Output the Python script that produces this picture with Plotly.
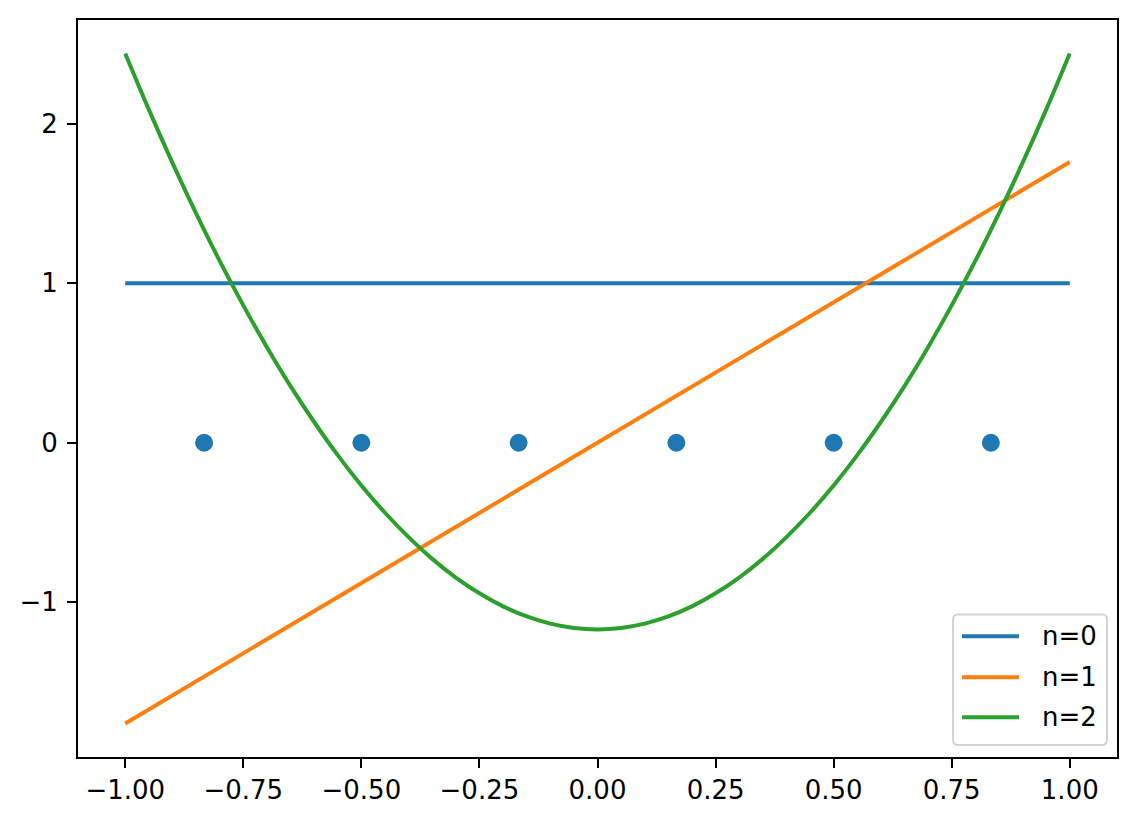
import plotly.graph_objects as go

# sample nodes
node_x = [-0.833, -0.5, -0.167, 0.167, 0.5, 0.833]
node_y = [0, 0, 0, 0, 0, 0]

# straight curves (n=0, n=1)
line_x = [-1.0, 1.0]
n0_y = [1.0, 1.0]
n1_y = [-1.76, 1.76]

# quadratic curve (n=2)
curve_x = [-1.0, -0.95, -0.9, -0.85, -0.8, -0.75, -0.7, -0.65, -0.6, -0.55, -0.5,
           -0.45, -0.4, -0.35, -0.3, -0.25, -0.2, -0.15, -0.1, -0.05, 0.0,
           0.05, 0.1, 0.15, 0.2, 0.25, 0.3, 0.35, 0.4, 0.45, 0.5,
           0.55, 0.6, 0.65, 0.7, 0.75, 0.8, 0.85, 0.9, 0.95, 1.0]
n2_y = [2.440, 2.088, 1.754, 1.438, 1.140, 0.861, 0.599, 0.355, 0.130, -0.078, -0.268,
        -0.439, -0.592, -0.728, -0.845, -0.944, -1.026, -1.089, -1.134, -1.161, -1.170,
        -1.161, -1.134, -1.089, -1.026, -0.944, -0.845, -0.728, -0.592, -0.439, -0.268,
        -0.078, 0.130, 0.355, 0.599, 0.861, 1.140, 1.438, 1.754, 2.088, 2.440]

x_ticks = [-1.0, -0.75, -0.5, -0.25, 0.0, 0.25, 0.5, 0.75, 1.0]
y_ticks = [-1, 0, 1, 2]

legend_names = ['n=0', 'n=1', 'n=2']

BLUE = '#1f77b4'
ORANGE = '#ff7f0e'
GREEN = '#2ca02c'
COLORS = [BLUE, ORANGE, GREEN]
FONT = 'DejaVu Sans'
LW = 4

fig = go.Figure()

fig.add_trace(go.Scatter(x=node_x, y=node_y, mode='markers', showlegend=False,
                         marker=dict(color=BLUE, size=18, line=dict(width=0))))
fig.add_trace(go.Scatter(x=line_x, y=n0_y, mode='lines', name=legend_names[0],
                         showlegend=False, line=dict(color=BLUE, width=LW)))
fig.add_trace(go.Scatter(x=line_x, y=n1_y, mode='lines', name=legend_names[1],
                         showlegend=False, line=dict(color=ORANGE, width=LW)))
fig.add_trace(go.Scatter(x=curve_x, y=n2_y, mode='lines', name=legend_names[2],
                         showlegend=False,
                         line=dict(color=GREEN, width=LW, shape='spline', smoothing=1.0)))

# matplotlib-style legend in the lower right corner (axes-fraction coords)
bx0, bx1, by0, by1 = 0.8422, 0.9904, 0.0162, 0.1935
rx, ry = 0.0048, 0.0068
box_path = (f'M {bx0 + rx},{by0} L {bx1 - rx},{by0} Q {bx1},{by0} {bx1},{by0 + ry} '
            f'L {bx1},{by1 - ry} Q {bx1},{by1} {bx1 - rx},{by1} '
            f'L {bx0 + rx},{by1} Q {bx0},{by1} {bx0},{by1 - ry} '
            f'L {bx0},{by0 + ry} Q {bx0},{by0} {bx0 + rx},{by0} Z')
fig.add_shape(type='path', path=box_path, xref='paper', yref='paper',
              fillcolor='rgba(255,255,255,0.8)', line=dict(color='#d4d4d4', width=2))

row_y = [0.1637, 0.1083, 0.0541]
for name, color, ry_ in zip(legend_names, COLORS, row_y):
    fig.add_shape(type='line', xref='paper', yref='paper',
                  x0=0.8508, x1=0.9057, y0=ry_, y1=ry_,
                  line=dict(color=color, width=LW))
    fig.add_annotation(text=name, xref='paper', yref='paper', x=0.9259, y=ry_,
                       xanchor='left', yanchor='middle', showarrow=False,
                       font=dict(family=FONT, size=26, color='black'))

axis_style = dict(showgrid=False, zeroline=False, showline=True, linecolor='black',
                  linewidth=2, mirror=True, ticks='outside', ticklen=9, tickwidth=2,
                  tickcolor='black', tickfont=dict(family=FONT, size=26, color='black'))

fig.update_xaxes(range=[-1.1, 1.1], tickvals=x_ticks, tickformat='.2f', **axis_style)
fig.update_yaxes(range=[-1.97, 2.65], tickvals=y_ticks, ticklabelstandoff=4, **axis_style)

fig.update_layout(
    width=1138, height=822,
    margin=dict(l=70, r=29, t=10, b=73),
    plot_bgcolor='white', paper_bgcolor='white',
    font=dict(family=FONT, size=26, color='black'),
    showlegend=False,
)

fig.write_html("out.html")
